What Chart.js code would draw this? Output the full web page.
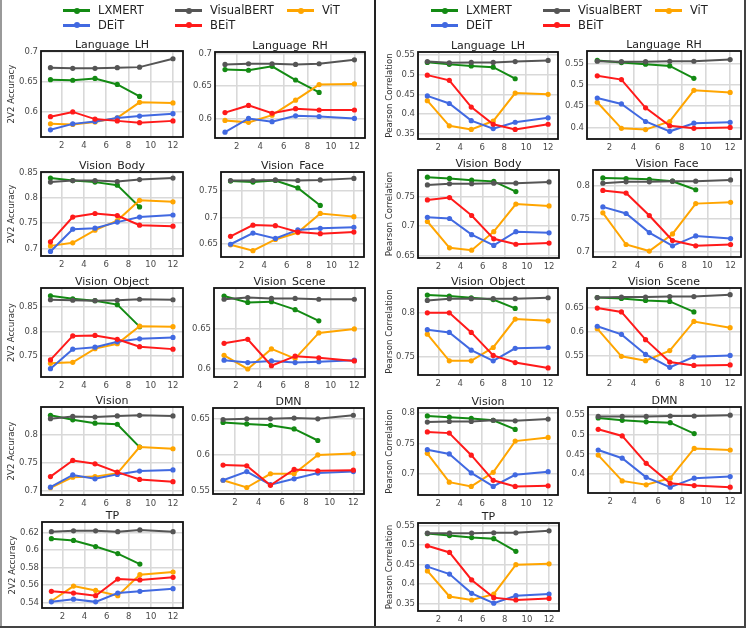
<!DOCTYPE html>
<html><head><meta charset="utf-8">
<script src="https://cdn.jsdelivr.net/npm/chart.js@4.4.0/dist/chart.umd.min.js"></script>
<style>
body{margin:0;background:#fff;}
#fig{position:relative;width:747px;height:630px;overflow:hidden;font-family:"DejaVu Sans",sans-serif;background:#fff;}
canvas{position:absolute;}
.leg{position:absolute;font-size:11.5px;color:#222;white-space:nowrap;line-height:14px;}
.sw{position:absolute;height:3px;}
.dot{position:absolute;width:6px;height:6px;border-radius:50%;}
.rule{position:absolute;}
</style></head><body><div id="fig"></div>
<script>
// ---------- data ----------
const layers = [1, 3, 5, 7, 9, 12];
const lxmertLayers = [1, 3, 5, 7, 9];
const xTicks = [2, 4, 6, 8, 10, 12];
const seriesNames = ['LXMERT', 'VisualBERT', 'ViT', 'DEiT', 'BEiT'];
const regions = ['Language_LH', 'Language_RH', 'Vision_Body', 'Vision_Face', 'Vision_Object', 'Vision_Scene', 'Vision', 'DMN', 'TP'];
const metricTitles = ['2V2 Accuracy', 'Pearson Correlation'];

// 2V2 accuracy (rows follow `regions`)
const accLXMERT = [
  [0.654,0.653,0.656,0.646,0.626],[0.675,0.674,0.680,0.659,0.640],[0.839,0.834,0.831,0.825,0.782],
  [0.769,0.767,0.770,0.756,0.723],[0.873,0.867,0.863,0.855,0.810],[0.691,0.683,0.684,0.674,0.660],
  [0.835,0.827,0.821,0.819,0.778],[0.645,0.643,0.641,0.636,0.620],[0.613,0.611,0.604,0.596,0.584]];
const accVisualBERT = [
  [0.674,0.673,0.673,0.674,0.675,0.689],[0.683,0.684,0.684,0.683,0.684,0.690],[0.831,0.834,0.834,0.832,0.836,0.839],
  [0.770,0.770,0.771,0.770,0.771,0.774],[0.865,0.864,0.863,0.864,0.866,0.865],[0.687,0.689,0.688,0.688,0.687,0.687],
  [0.829,0.833,0.832,0.834,0.835,0.834],[0.649,0.650,0.650,0.651,0.650,0.655],[0.621,0.622,0.622,0.621,0.623,0.621]];
const accViT = [
  [0.580,0.579,0.583,0.590,0.616,0.615],[0.597,0.594,0.605,0.628,0.652,0.653],[0.705,0.711,0.736,0.755,0.795,0.792],
  [0.649,0.638,0.659,0.672,0.708,0.702],[0.735,0.737,0.765,0.775,0.811,0.810],[0.617,0.600,0.625,0.613,0.645,0.650],
  [0.705,0.724,0.725,0.731,0.778,0.775],[0.565,0.555,0.574,0.574,0.600,0.602],[0.542,0.559,0.554,0.548,0.572,0.575]];
const accDEiT = [
  [0.570,0.580,0.584,0.590,0.593,0.597],[0.579,0.600,0.595,0.604,0.603,0.600],[0.694,0.738,0.740,0.752,0.762,0.766],
  [0.650,0.671,0.661,0.677,0.680,0.682],[0.724,0.764,0.768,0.779,0.785,0.788],[0.611,0.608,0.610,0.608,0.609,0.611],
  [0.706,0.728,0.721,0.729,0.735,0.737],[0.565,0.577,0.559,0.567,0.575,0.577],[0.541,0.544,0.541,0.551,0.553,0.556]];
const accBEiT = [
  [0.592,0.600,0.588,0.585,0.582,0.585],[0.609,0.620,0.608,0.615,0.613,0.613],[0.713,0.762,0.769,0.765,0.746,0.744],
  [0.665,0.686,0.685,0.673,0.670,0.673],[0.742,0.791,0.792,0.784,0.769,0.764],[0.632,0.637,0.604,0.616,0.614,0.610],
  [0.725,0.754,0.748,0.733,0.720,0.716],[0.586,0.585,0.558,0.580,0.578,0.579],[0.553,0.551,0.548,0.567,0.566,0.569]];

// Pearson correlation
const corLXMERT = [
  [0.530,0.525,0.521,0.518,0.489],[0.557,0.552,0.548,0.544,0.515],[0.782,0.780,0.777,0.775,0.758],
  [0.812,0.811,0.810,0.807,0.794],[0.820,0.819,0.817,0.815,0.805],[0.672,0.670,0.666,0.664,0.642],
  [0.795,0.793,0.791,0.788,0.773],[0.543,0.537,0.533,0.531,0.503],[0.529,0.524,0.519,0.516,0.484]];
const corVisualBERT = [
  [0.532,0.529,0.530,0.530,0.532,0.535],[0.555,0.554,0.554,0.555,0.555,0.559],[0.769,0.771,0.771,0.772,0.772,0.774],
  [0.804,0.806,0.806,0.807,0.807,0.809],[0.814,0.816,0.816,0.816,0.816,0.817],[0.672,0.673,0.673,0.674,0.674,0.678],
  [0.785,0.786,0.786,0.788,0.787,0.790],[0.547,0.547,0.547,0.548,0.548,0.550],[0.530,0.530,0.530,0.531,0.531,0.536]];
const corViT = [
  [0.434,0.371,0.362,0.383,0.453,0.450],[0.459,0.398,0.395,0.414,0.487,0.482],[0.708,0.664,0.660,0.691,0.737,0.734],
  [0.759,0.711,0.701,0.727,0.773,0.775],[0.776,0.746,0.746,0.761,0.793,0.791],[0.607,0.549,0.540,0.561,0.622,0.609],
  [0.734,0.687,0.680,0.703,0.754,0.760],[0.448,0.382,0.372,0.389,0.465,0.461],[0.434,0.369,0.360,0.375,0.450,0.452]];
const corDEiT = [
  [0.446,0.427,0.384,0.364,0.380,0.391],[0.469,0.455,0.414,0.391,0.410,0.412],[0.715,0.713,0.686,0.668,0.691,0.689],
  [0.768,0.758,0.729,0.709,0.724,0.720],[0.781,0.778,0.758,0.746,0.760,0.761],[0.612,0.595,0.553,0.526,0.548,0.551],
  [0.740,0.733,0.702,0.680,0.699,0.704],[0.461,0.440,0.391,0.366,0.389,0.393],[0.445,0.426,0.377,0.352,0.371,0.375]];
const corBEiT = [
  [0.498,0.485,0.418,0.375,0.362,0.375],[0.521,0.512,0.446,0.404,0.398,0.400],[0.744,0.748,0.718,0.679,0.670,0.672],
  [0.793,0.789,0.755,0.717,0.709,0.711],[0.800,0.800,0.778,0.752,0.744,0.738],[0.650,0.642,0.584,0.537,0.530,0.531],
  [0.769,0.767,0.731,0.690,0.680,0.681],[0.514,0.497,0.427,0.376,0.370,0.366],[0.498,0.481,0.411,0.366,0.360,0.364]];

// y tick labels
const accYTicks = [[0.6,0.65,0.7],[0.6,0.65,0.7],[0.7,0.75,0.8,0.85],[0.65,0.7,0.75],[0.75,0.8,0.85],[0.6,0.65],[0.7,0.75,0.8],[0.55,0.6,0.65],[0.54,0.56,0.58,0.6,0.62]];
const corYTicks = [[0.35,0.4,0.45,0.5,0.55],[0.4,0.45,0.5,0.55],[0.65,0.7,0.75],[0.7,0.75,0.8],[0.75,0.8],[0.55,0.6,0.65],[0.7,0.75,0.8],[0.4,0.45,0.5,0.55],[0.35,0.4,0.45,0.5,0.55]];

// ---------- styling / layout ----------
const seriesColors = ['#138a13', '#555555', '#ffa500', '#4169e1', '#ff1a1a'];
const accYRange = [[0.558,0.702],[0.570,0.702],[0.685,0.851],[0.626,0.786],[0.707,0.889],[0.590,0.701],[0.692,0.850],[0.546,0.665],[0.534,0.632]];
const corYRange = [[0.338,0.556],[0.373,0.579],[0.647,0.794],[0.692,0.824],[0.730,0.828],[0.510,0.692],[0.666,0.808],[0.351,0.571],[0.332,0.556]];
const accBoxes = [[41,51,183,137],[215,52,365,138],[41,172,183,256],[221,172,364,257],[41,288,183,377],[214,288,365,377],[41,407,183,495],[213,408,364,494],[42,522,183,608]];
const corBoxes = [[418,52,558,139],[587,51,741,139],[418,170,559,258],[593,170,741,257],[418,288,558,375],[587,288,741,375],[418,408,558,495],[588,407,741,493],[418,523,559,611]];

const fig = document.getElementById('fig');
const FONT = '"DejaVu Sans", sans-serif';

const framePlugin = {
  id: 'frame',
  beforeDatasetsDraw(chart) {
    const a = chart.chartArea, ctx = chart.ctx;
    ctx.save();
    ctx.strokeStyle = '#111'; ctx.lineWidth = 1.8;
    ctx.strokeRect(a.left, a.top, a.right - a.left, a.bottom - a.top);
    ctx.restore();
  }
};
const titlePlugin = {
  id: 'ptitle',
  afterDraw(chart, args, opts) {
    const a = chart.chartArea, ctx = chart.ctx;
    ctx.save();
    ctx.font = '11px ' + FONT; ctx.fillStyle = '#222';
    ctx.textAlign = 'center'; ctx.textBaseline = 'alphabetic';
    ctx.fillText(opts.text, (a.left + a.right) / 2, a.top - 3.5);
    ctx.restore();
  }
};

function makeChart(box, isLeftCol, yTitle, titlePad, region, seriesData, yTicks, yRange) {
  const [L, T, R, B] = box;
  const padTop = 20, xH = 18, padRight = 6;
  const cl = isLeftCol ? L - 40 : L - 38;
  const ct = T - padTop;
  const w = R - cl + padRight;
  const h = B - ct + xH;
  const c = document.createElement('canvas');
  c.width = w; c.height = h;
  c.style.left = cl + 'px'; c.style.top = ct + 'px';
  c.style.width = w + 'px'; c.style.height = h + 'px';
  fig.appendChild(c);
  const datasets = seriesNames.map((name, i) => {
    const xs = i === 0 ? lxmertLayers : layers;
    return {
      label: name,
      data: seriesData[i].map((v, k) => ({x: xs[k], y: v})),
      borderColor: seriesColors[i], backgroundColor: seriesColors[i],
      pointBackgroundColor: seriesColors[i], pointBorderWidth: 0,
      pointRadius: 2.6, borderWidth: 2, tension: 0, order: 4 - i, clip: false
    };
  });
  const tickFont = {family: FONT, size: 8.5};
  new Chart(c, {
    type: 'line',
    data: {datasets},
    options: {
      responsive: false, animation: false, events: [],
      layout: {padding: {top: padTop, right: padRight, left: 0, bottom: 0}},
      plugins: {legend: {display: false}, tooltip: {enabled: false}, ptitle: {text: region}},
      scales: {
        x: {
          type: 'linear', min: 0.15, max: 12.9,
          afterBuildTicks: s => { s.ticks = xTicks.map(v => ({value: v})); },
          afterFit: s => { s.height = xH; },
          grid: {color: '#d9d9d9', lineWidth: 1.6, drawTicks: false},
          border: {display: false},
          ticks: {font: tickFont, color: '#4a4a4a', padding: 4, maxRotation: 0, autoSkip: false, callback: v => String(v)}
        },
        y: {
          type: 'linear', min: yRange[0], max: yRange[1],
          afterBuildTicks: s => { s.ticks = yTicks.map(v => ({value: v})); },
          afterFit: s => { s.width = L - cl; },
          grid: {color: '#d9d9d9', lineWidth: 1.6, drawTicks: false},
          border: {display: false},
          ticks: {font: tickFont, color: '#4a4a4a', padding: 3, autoSkip: false, callback: v => String(+v.toFixed(3))},
          title: {display: !!yTitle, text: yTitle || '', color: '#333', font: {family: FONT, size: 8.6}, padding: {top: titlePad, bottom: 0}}
        }
      }
    },
    plugins: [framePlugin, titlePlugin]
  });
}

const accSeries = [accLXMERT, accVisualBERT, accViT, accDEiT, accBEiT];
const corSeries = [corLXMERT, corVisualBERT, corViT, corDEiT, corBEiT];
regions.forEach((r, i) => {
  const left = i % 2 === 0;
  makeChart(accBoxes[i], left, left ? metricTitles[0] : null, 6, r, accSeries.map(s => s[i]), accYTicks[i], accYRange[i]);
  makeChart(corBoxes[i], left, left ? metricTitles[1] : null, 7, r, corSeries.map(s => s[i]), corYTicks[i], corYRange[i]);
});

// ---------- legends ----------
function legend(items) {
  items.forEach(([idx, lx, ty]) => {
    const sw = document.createElement('div');
    sw.className = 'sw'; sw.style.background = seriesColors[idx];
    sw.style.left = lx + 'px'; sw.style.top = (ty - 1.5) + 'px'; sw.style.width = '27px';
    fig.appendChild(sw);
    const d = document.createElement('div');
    d.className = 'dot'; d.style.background = seriesColors[idx];
    d.style.left = (lx + 10.5) + 'px'; d.style.top = (ty - 3) + 'px';
    fig.appendChild(d);
    const t = document.createElement('div');
    t.className = 'leg'; t.textContent = seriesNames[idx];
    t.style.left = (lx + 35) + 'px'; t.style.top = (ty - 7.5) + 'px';
    fig.appendChild(t);
  });
}
legend([[0, 63, 10.5], [1, 175, 10.5], [2, 287, 10.5], [3, 63, 25], [4, 175, 25]]);
legend([[0, 431, 10.5], [1, 543, 10.5], [2, 655, 10.5], [3, 431, 25], [4, 543, 25]]);

// ---------- frame rules ----------
function rule(x, y, w, h, col) {
  const d = document.createElement('div');
  d.className = 'rule';
  Object.assign(d.style, {left: x + 'px', top: y + 'px', width: w + 'px', height: h + 'px', background: col});
  fig.appendChild(d);
}
rule(0, 0, 2, 628, '#999');
rule(374, 0, 2, 628, '#222');
rule(744, 0, 2, 628, '#444');
rule(0, 626, 746, 1.5, '#444');
</script></body></html>
